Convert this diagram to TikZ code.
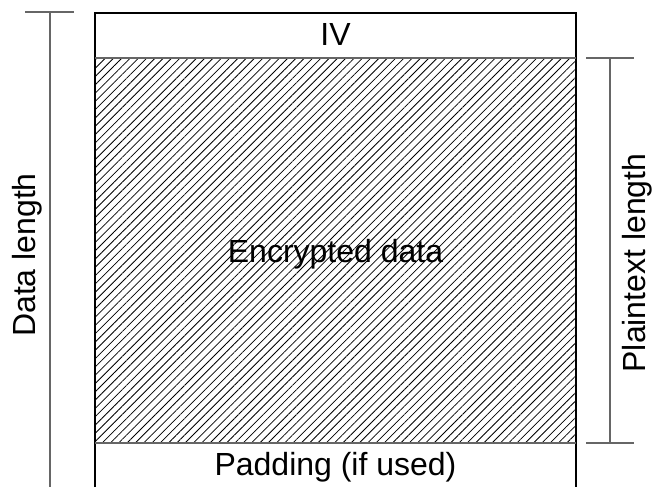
\documentclass[tikz,border=0pt]{standalone}
\usepackage{fontspec}
\setmainfont{Liberation Sans}
\usetikzlibrary{patterns.meta}
\tikzset{
  boxline/.style={draw=black, line width=0.8pt},
  dimline/.style={draw=black!60, line width=1.1pt},
  lbl/.style={font=\fontsize{24}{28}\selectfont, inner sep=0pt, anchor=base},
  hatch/.style={pattern={Lines[angle=45,distance=4.4pt,line width=0.6pt]}, pattern color=black}
}
\begin{document}
\begin{tikzpicture}[x=0.75pt,y=-0.75pt]
\useasboundingbox (0,0) rectangle (655,487);
% hatched data region
\fill[hatch] (95,58) rectangle (576,443);
% box
\draw[boxline] (95,487) -- (95,13) -- (576,13) -- (576,487);
\draw[dimline] (95,58) -- (576,58);
\draw[dimline] (95,443) -- (576,443);
% texts
\node[lbl] (iv) at (335.5,45) {IV};
\node[lbl] (enc) at (335.5,262) {Encrypted data};
\node[lbl] (pad) at (335.5,475) {Padding (if used)};
% left dimension
\coordinate (lt) at (50,12);
\coordinate (lb) at (50,487);
\coordinate (ltl) at (25,12);
\coordinate (ltr) at (74,12);
\draw[dimline] (ltl) -- (ltr);
\draw[dimline] (lt) -- (lb);
\node[lbl, rotate=90] (dl) at (35,255) {Data length};
% right dimension
\coordinate (rt) at (610,58);
\coordinate (rb) at (610,443);
\coordinate (rtl) at (586,58);
\coordinate (rtr) at (634,58);
\coordinate (rbl) at (586,443);
\coordinate (rbr) at (634,443);
\draw[dimline] (rtl) -- (rtr);
\draw[dimline] (rbl) -- (rbr);
\draw[dimline] (rt) -- (rb);
\node[lbl, rotate=90] (pl) at (645,263) {Plaintext length};
\end{tikzpicture}
\end{document}
